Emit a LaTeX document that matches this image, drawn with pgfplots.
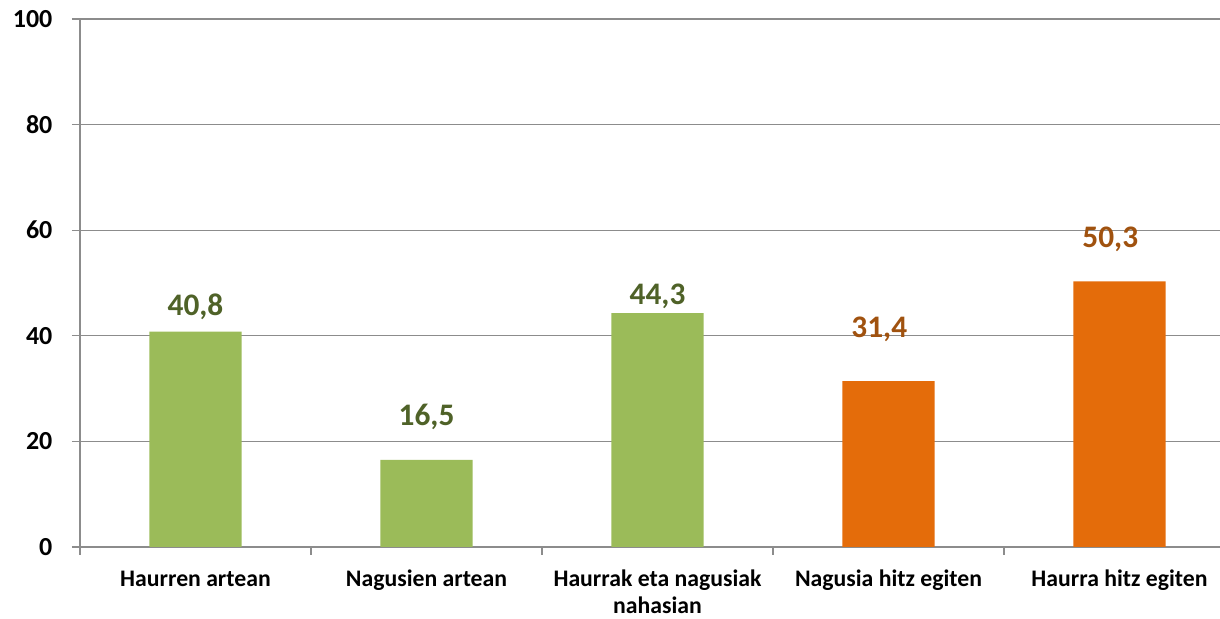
\documentclass[border=0pt]{standalone}
\usepackage{pgfplots}
\pgfplotsset{compat=1.18}
\usepackage{fontspec}
\setmainfont{Carlito}
\definecolor{barG}{HTML}{9BBB59}
\definecolor{barO}{HTML}{E46C0A}
\definecolor{labG}{HTML}{4F6228}
\definecolor{labO}{HTML}{A0520F}
\definecolor{axgray}{HTML}{8C8C8C}
\pgfplotstableread{
x y
0 40.8
1 16.5
2 44.3
}\green
\pgfplotstableread{
x y
3 31.4
4 50.3
}\orange
\pgfplotstableread{
x y lab
0 43.75 40,8
1 23.1 16,5
2 46.0 44,3
}\greenlab
\pgfplotstableread{
x y lab
2.96 39.6 31,4
3.96 56.8 50,3
}\orangelab
\begin{document}
\begin{tikzpicture}
\begin{axis}[
  scale only axis, width=855pt, height=396pt,
  xmin=-0.5, xmax=4.435, ymin=0, ymax=100,
  axis x line*=bottom, axis y line*=left,
  axis line style={axgray, line width=0.9pt, -},
  ytick={0,20,...,100}, ymajorgrids,
  grid style={axgray, line width=0.9pt},
  tick style={axgray, line width=0.9pt},
  tick align=outside, major tick length=6pt,
  ytick pos=left, xtick pos=bottom,
  xtick={-0.5,0.5,1.5,2.5,3.5}, xticklabels={},
  extra x ticks={0,1,2,3,4},
  extra x tick labels={\vphantom{Hk}Haurren artean, \vphantom{Hk}Nagusien artean, {\vphantom{Hk}Haurrak eta nagusiak\\nahasian}, \vphantom{Hk}Nagusia hitz egiten, \vphantom{Hk}Haurra hitz egiten},
  extra x tick style={major tick length=0pt, tick label style={align=center, anchor=north, inner sep=0pt, yshift=-16.8pt}},
  x tick label style={font=\fontsize{17.8}{20.3}\selectfont\bfseries, text=black},
  y tick label style={font=\fontsize{19.5}{22}\selectfont\bfseries, text=black},
  /pgf/number format/assume math mode=true,
  yticklabel style={inner sep=0pt, anchor=east, xshift=-14.5pt},
  clip=false,
]
\addplot[ybar, bar width=0.4, bar shift=0pt, fill=barG, draw=none] table[x=x,y=y] {\green};
\addplot[ybar, bar width=0.4, bar shift=0pt, fill=barO, draw=none] table[x=x,y=y] {\orange};
\addplot[draw=none, mark=none, nodes near coords, point meta=explicit symbolic,
  nodes near coords style={anchor=base, inner sep=0pt, font=\fontsize{23.5}{28}\selectfont\bfseries, text=labG}]
  table[x=x,y=y,meta=lab] {\greenlab};
\addplot[draw=none, mark=none, nodes near coords, point meta=explicit symbolic,
  nodes near coords style={anchor=base, inner sep=0pt, font=\fontsize{23.5}{28}\selectfont\bfseries, text=labO}]
  table[x=x,y=y,meta=lab] {\orangelab};
\end{axis}
\pgfresetboundingbox
\path[use as bounding box] ([xshift=-60pt,yshift=-54pt]current axis.south west) rectangle ([yshift=14.25pt]current axis.north east);
\end{tikzpicture}
\end{document}
